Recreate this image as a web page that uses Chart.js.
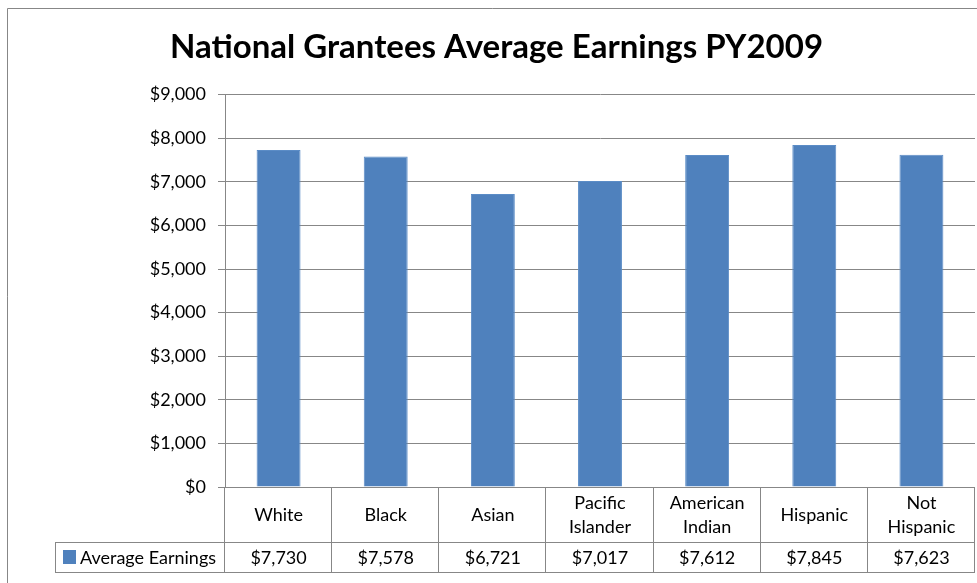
<!DOCTYPE html>
<html lang="en">
<head>
  <meta charset="UTF-8">
  <title>National Grantees Average Earnings PY2009</title>
  <style>
    body {
      margin: 0;
      background: white;
    }
    #wrap {
      width: 977px;
      height: 583px;
      position: relative;
    }
  </style>
</head>
<body>
  <div id="wrap">
    <canvas id="earningsChart" width="977" height="583"></canvas>
  </div>

  <script src="https://cdn.jsdelivr.net/npm/chart.js"></script>
  <script>
    const categories = [['White'], ['Black'], ['Asian'], ['Pacific', 'Islander'], ['American', 'Indian'], ['Hispanic'], ['Not', 'Hispanic']];
    const earnings = [7730, 7578, 6721, 7017, 7612, 7845, 7623];
    const seriesName = 'Average Earnings';
    const yTicks = [0, 1000, 2000, 3000, 4000, 5000, 6000, 7000, 8000, 9000];

    const FONT = 'Lato, "Open Sans", sans-serif';
    const GRID = '#878787';
    const BAR = '#4F81BD';

    function money(v) {
      return '$' + v.toLocaleString('en-US');
    }

    // outer chart border + data table under the plot
    const tablePlugin = {
      id: 'dataTable',
      beforeDraw(chart) {
        const ctx = chart.ctx;
        ctx.save();
        ctx.strokeStyle = GRID;
        ctx.lineWidth = 1;
        ctx.beginPath();
        ctx.moveTo(7.5, 600);
        ctx.lineTo(7.5, 8.5);
        ctx.lineTo(990, 8.5);
        ctx.stroke();
        ctx.restore();
      },
      afterDraw(chart) {
        const ctx = chart.ctx;
        const area = chart.chartArea;
        const x = chart.scales.x;
        const n = categories.length;
        const w = (area.right - area.left) / n;
        const top = area.bottom;
        const mid = top + 55;
        const bot = mid + 30;
        const legLeft = 55;

        ctx.save();
        ctx.strokeStyle = GRID;
        ctx.lineWidth = 1;
        ctx.beginPath();
        // horizontal lines
        ctx.moveTo(area.left, top + 0.5);
        ctx.lineTo(area.right, top + 0.5);
        ctx.moveTo(legLeft, mid + 0.5);
        ctx.lineTo(area.right, mid + 0.5);
        ctx.moveTo(legLeft, bot + 0.5);
        ctx.lineTo(area.right, bot + 0.5);
        // vertical lines
        ctx.moveTo(legLeft + 0.5, mid);
        ctx.lineTo(legLeft + 0.5, bot);
        for (let i = 0; i <= n; i++) {
          const px = Math.round(area.left + i * w) - 0.5;
          ctx.moveTo(px, top);
          ctx.lineTo(px, bot);
        }
        ctx.stroke();

        ctx.fillStyle = '#000';
        ctx.font = '18px ' + FONT;
        ctx.textAlign = 'center';
        ctx.textBaseline = 'middle';
        categories.forEach((lines, i) => {
          const cx = x.getPixelForValue(i);
          const cy = (top + mid) / 2 + 1;
          const lh = 24;
          lines.forEach((t, j) => {
            ctx.fillText(t, cx, cy + (j - (lines.length - 1) / 2) * lh);
          });
          ctx.fillText(money(earnings[i]), cx, (mid + bot) / 2 + 1);
        });

        // legend key
        ctx.fillStyle = BAR;
        ctx.fillRect(63, mid + 8, 13, 14);
        ctx.fillStyle = '#000';
        ctx.textAlign = 'left';
        ctx.fillText(seriesName, 80, (mid + bot) / 2 + 1);
        ctx.restore();
      }
    };

    const ctx = document.getElementById('earningsChart').getContext('2d');
    new Chart(ctx, {
      type: 'bar',
      data: {
        labels: categories.map(c => c.join(' ')),
        datasets: [{
          label: seriesName,
          data: earnings,
          backgroundColor: BAR,
          borderColor: '#5B8CC6',
          borderWidth: 1,
          categoryPercentage: 1,
          barPercentage: 0.41
        }]
      },
      options: {
        responsive: false,
        animation: false,
        layout: {
          padding: { left: 18, right: 2, top: 0, bottom: 96 }
        },
        plugins: {
          legend: { display: false },
          tooltip: { enabled: false },
          title: {
            display: true,
            text: 'National Grantees Average Earnings PY2009',
            color: '#000',
            font: { family: FONT, size: 33, weight: 'bold', lineHeight: 1.2 },
            padding: { top: 28, bottom: 27 }
          }
        },
        scales: {
          x: {
            display: false
          },
          y: {
            min: 0,
            max: 9000,
            afterBuildTicks(scale) {
              scale.ticks = yTicks.map(v => ({ value: v }));
            },
            afterFit(scale) {
              scale.width = 207;
            },
            border: { color: GRID, width: 1 },
            grid: { color: GRID, lineWidth: 1, tickLength: 7 },
            ticks: {
              color: '#000',
              padding: 12,
              font: { family: FONT, size: 18 },
              callback: v => money(v)
            }
          }
        }
      },
      plugins: [tablePlugin]
    });
  </script>
</body>
</html>
